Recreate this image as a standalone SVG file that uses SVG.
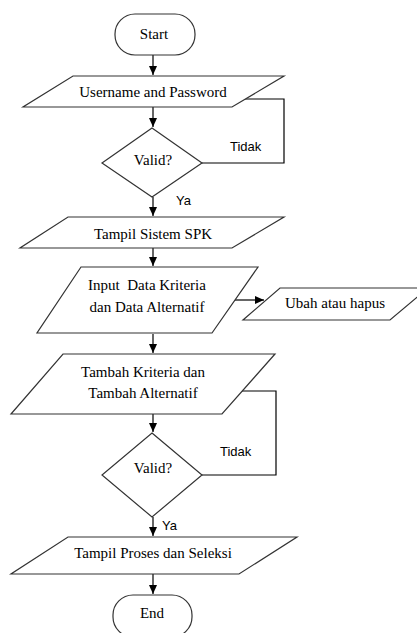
<svg xmlns="http://www.w3.org/2000/svg" width="417" height="633" viewBox="0 0 417 633">
<defs>
<marker id="ah" markerWidth="10" markerHeight="10" refX="9" refY="5" orient="auto" markerUnits="userSpaceOnUse">
<path d="M0,1 L9,5 L0,9 Z" fill="#000"/>
</marker>
<style>
.s{fill:#fff;stroke:#333;stroke-width:1.2}
.t{font-family:"Liberation Serif","Times New Roman",serif;font-size:15px;fill:#000;text-anchor:middle;white-space:pre}
.l{font-family:"Liberation Sans",Arial,sans-serif;font-size:13px;fill:#000}
.c{fill:none;stroke:#000;stroke-width:1.2}
</style>
</defs>
<rect width="417" height="633" fill="#fff"/>
<g id="connectors">
<path class="c" d="M153,55 V75" marker-end="url(#ah)"/>
<path class="c" d="M153,107 V127" marker-end="url(#ah)"/>
<path class="c" d="M202,163 H284 V99 H245"/>
<path class="c" d="M153,197 V216" marker-end="url(#ah)"/>
<path class="c" d="M153,248 V266" marker-end="url(#ah)"/>
<path class="c" d="M233,300 H264" marker-end="url(#ah)"/>
<path class="c" d="M153,334 V353" marker-end="url(#ah)"/>
<path class="c" d="M202,475 H276 V391 H242"/>
<path class="c" d="M153,414 V432" marker-end="url(#ah)"/>
<path class="c" d="M153,517 V536" marker-end="url(#ah)"/>
<path class="c" d="M153,574 V594" marker-end="url(#ah)"/>
<text class="l" x="230" y="151">Tidak</text>
<text class="l" x="176" y="205">Ya</text>
<text class="l" x="220" y="456">Tidak</text>
<text class="l" x="162" y="530">Ya</text>
</g>
<g id="start">
<rect class="s" x="115" y="14" width="80" height="41" rx="20" ry="20"/>
<text class="t" x="154" y="39">Start</text>
</g>
<g id="login">
<polygon class="s" points="73,76 284,76 232,107 23,107"/>
<text class="t" x="153" y="97">Username and Password</text>
</g>
<g id="valid1">
<polygon class="s" points="152,128 202,163 152,197 102,163"/>
<text class="t" x="153" y="165">Valid?</text>
</g>
<g id="tampil-spk">
<polygon class="s" points="68,217 284,217 232,248 20,248"/>
<text class="t" x="153" y="239">Tampil Sistem SPK</text>
</g>
<g id="input-data">
<polygon class="s" points="81,267 258,267 212,333 37,333"/>
<text class="t" x="147" y="290" xml:space="preserve">Input  Data Kriteria</text>
<text class="t" x="147" y="312">dan Data Alternatif</text>
</g>
<g id="ubah">
<polygon class="s" points="280,288 428,288 390,320 243,320"/>
<text class="t" x="335" y="308">Ubah atau hapus</text>
</g>
<g id="tambah">
<polygon class="s" points="63,354 275,354 222,414 11,414"/>
<text class="t" x="143" y="377">Tambah Kriteria dan</text>
<text class="t" x="143" y="398">Tambah Alternatif</text>
</g>
<g id="valid2">
<polygon class="s" points="152,433 202,475 152,517 102,475"/>
<text class="t" x="153" y="473">Valid?</text>
</g>
<g id="tampil-proses">
<polygon class="s" points="68,537 297,537 239,574 11,574"/>
<text class="t" x="153" y="558">Tampil Proses dan Seleksi</text>
</g>
<g id="end">
<rect class="s" x="113" y="595" width="79" height="42" rx="20" ry="20"/>
<text class="t" x="152" y="618">End</text>
</g>
</svg>
